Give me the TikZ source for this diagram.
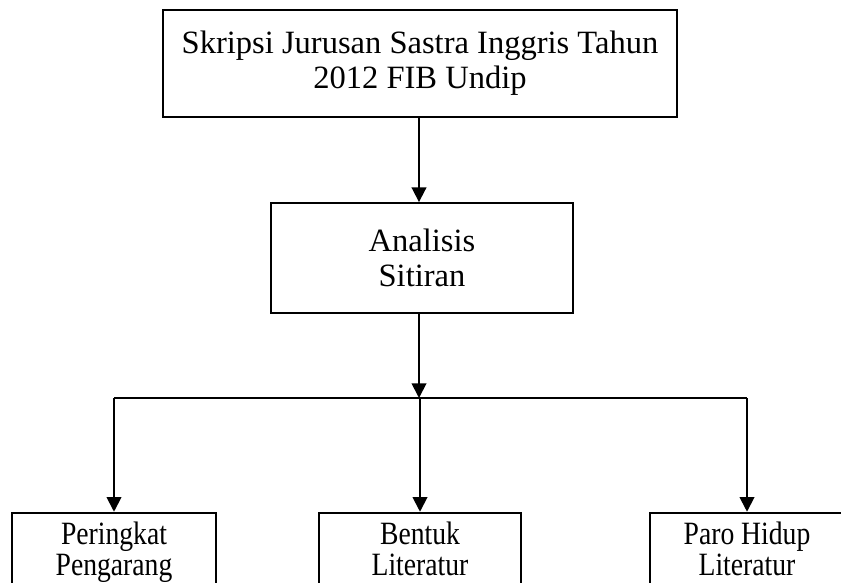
\documentclass[tikz,border=0pt]{standalone}
\usepackage{fontspec}
\setmainfont{Liberation Serif}
\usetikzlibrary{arrows.meta}

\tikzset{
  box/.style={draw, line width=1.4pt, align=center, inner sep=0pt,
    font=\fontsize{24.4}{26}\selectfont},
  narrow/.style={box, font=\fontsize{24.4}{23.5}\selectfont,
    text depth=5pt, minimum height=59pt},
  link/.style={line width=1.4pt},
  arrow/.style={link, -{Triangle[length=11pt,width=11pt]}}
}
\newcommand{\cond}[1]{\scalebox{0.85}[1]{#1}}

\begin{document}
\begin{tikzpicture}[x=0.75pt,y=-0.75pt]

  % --- page frame (bottom boxes run off the edge) ---
  \useasboundingbox (0,0) rectangle (841,582);
  \clip (0,0) rectangle (841,582);

  \def\rowy{552}

  % --- top and middle boxes ---
  \node[box, minimum width=385.5pt, minimum height=80pt] (skripsi) at (420,63.5)
    {Skripsi Jurusan Sastra Inggris Tahun\\2012 FIB Undip};
  \node[box, minimum width=226.5pt, minimum height=82.5pt] (analisis) at (422,258)
    {Analisis\\Sitiran};

  % --- bottom row ---
  \node[narrow, minimum width=153pt] (peringkat) at (114,\rowy)
    {\cond{Peringkat}\\\cond{Pengarang}};
  \node[narrow, minimum width=152pt] (bentuk) at (420,\rowy)
    {\cond{Bentuk}\\\cond{Literatur}};
  \node[narrow, minimum width=145.5pt] (paro) at (747,\rowy)
    {\cond{Paro Hidup}\\\cond{Literatur}};

  % --- connectors ---
  \coordinate (split) at (419,398);
  \draw[arrow] (skripsi.south -| split) -- (analisis.north -| split);
  \draw[arrow] (analisis.south -| split) -- (split);
  \draw[link] (peringkat.north |- split) -- (paro.north |- split);
  \foreach \n in {peringkat,bentuk,paro}
    \draw[arrow] (\n.north |- split) -- (\n.north);

\end{tikzpicture}
\end{document}
